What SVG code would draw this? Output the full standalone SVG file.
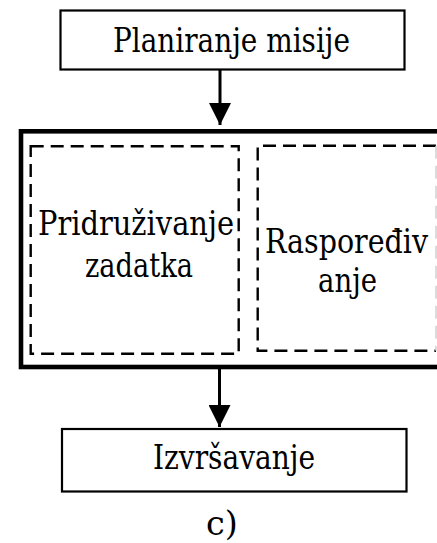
<svg xmlns="http://www.w3.org/2000/svg" width="437" height="543" viewBox="0 0 437 543">
<defs>
<style>
.box{fill:#fff;stroke:#000;stroke-width:2.2}
.big{fill:#fff;stroke:#000;stroke-width:4.6}
.dash{fill:none;stroke:#000;stroke-width:2.4;stroke-dasharray:13 7}
.faint{fill:none;stroke:#d0d0d0;stroke-width:1.5;stroke-dasharray:13 7}
.t{font-family:"DejaVu Serif",serif;font-size:33.5px;fill:#000;text-anchor:middle}
.line{stroke:#000;stroke-width:3;fill:none}
</style>
<marker id="ah" markerWidth="24" markerHeight="22" refX="24" refY="12" orient="auto" markerUnits="userSpaceOnUse" viewBox="0 0 24 24">
<path d="M0,0 L24,12 L0,24 Z" fill="#000"/>
</marker>
</defs>
<g id="planiranje">
<rect class="box" x="60.5" y="10.5" width="344" height="59"/>
<text class="t" x="231.5" y="51.5" textLength="237" lengthAdjust="spacingAndGlyphs">Planiranje misije</text>
</g>
<g id="kontejner">
<rect class="big" x="21" y="131.3" width="430" height="235.7"/>
</g>
<g id="pridruzivanje">
<rect class="dash" x="30.7" y="146.3" width="208" height="207.4"/>
<text class="t" x="136" y="235" textLength="196" lengthAdjust="spacingAndGlyphs">Pridruživanje</text>
<text class="t" x="139" y="276.7" textLength="108" lengthAdjust="spacingAndGlyphs">zadatka</text>
</g>
<g id="rasporedjivanje">
<path class="dash" d="M436,145.8 H257.7 V350.8 H436"/>
<line class="faint" x1="436" y1="145.8" x2="436" y2="350.8"/>
<text class="t" x="346.5" y="252.7" textLength="163" lengthAdjust="spacingAndGlyphs">Raspoređiv</text>
<text class="t" x="347.5" y="291.7" textLength="59" lengthAdjust="spacingAndGlyphs">anje</text>
</g>
<g id="izvrsavanje">
<rect class="box" x="62" y="429" width="344.5" height="62.5"/>
<text class="t" x="234" y="469" textLength="162" lengthAdjust="spacingAndGlyphs">Izvršavanje</text>
</g>
<g id="connectors">
<line class="line" x1="220" y1="70" x2="220" y2="125" marker-end="url(#ah)"/>
<line class="line" x1="219.5" y1="369" x2="219.5" y2="427" marker-end="url(#ah)"/>
</g>
<text class="t" x="222" y="535">c)</text>
</svg>
